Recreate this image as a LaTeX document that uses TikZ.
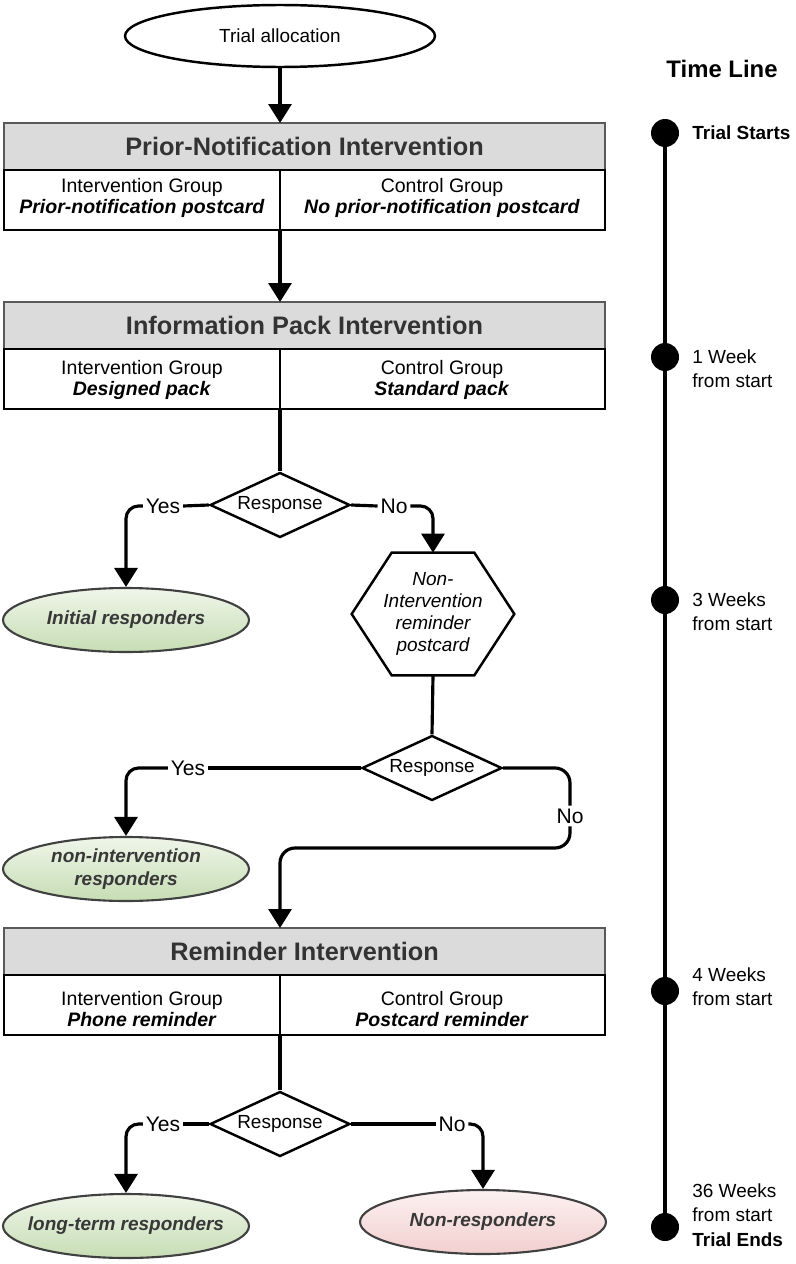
\documentclass[tikz,border=0pt]{standalone}
\usepackage{fontspec}
\setmainfont{Liberation Sans}
\usepackage{tikz}
\usetikzlibrary{positioning, shapes.geometric, arrows.meta}
\definecolor{greentop}{HTML}{F0F6EA}
\definecolor{greenbot}{HTML}{C6DDB4}
\definecolor{pinktop}{HTML}{FCF1F1}
\definecolor{pinkbot}{HTML}{F2CFCF}
\tikzset{
    flow/.style = {line width=1.8pt},
    arr/.style = {flow, -{Triangle[length=0.38cm, width=0.46cm]}},
    headbox/.style = {rectangle, draw=black!65, line width=1.2pt, fill=gray!28, outer sep=0pt,
        minimum width=12.02cm, minimum height=0.94cm, inner sep=0pt,
        font=\fontsize{14.4}{16}\selectfont\bfseries, text=black!80},
    bodybox/.style = {rectangle, draw, line width=1.4pt, fill=white, outer sep=0pt,
        minimum width=12.02cm, minimum height=1.2cm, inner sep=0pt},
    grp/.style = {align=center, inner sep=0pt, font=\fontsize{11.1}{12}\selectfont},
    decision/.style = {diamond, draw, line width=1.4pt, fill=white, aspect=2.2,
        minimum width=2.8cm, minimum height=1.3cm, inner sep=0pt, font=\fontsize{10.8}{12}\selectfont},
    yesno/.style = {inner sep=1.5pt, font=\fontsize{12}{13}\selectfont},
    endpoint/.style = {ellipse, draw=black!75, line width=1.2pt, minimum width=4.92cm,
        minimum height=1.28cm, inner sep=0pt, align=center, text=black!78,
        font=\fontsize{10.8}{13}\selectfont\bfseries\itshape},
    responders/.style = {endpoint, top color=greentop, bottom color=greenbot},
    nonresp/.style = {endpoint, top color=pinktop, bottom color=pinkbot},
    hexbox/.style = {minimum width=3.24cm, minimum height=2.44cm, inner sep=0pt,
        align=center, font=\fontsize{10.8}{12.5}\selectfont\itshape},
    tdot/.style = {circle, fill=black, minimum size=0.56cm, inner sep=0pt},
    tlabel/.style = {anchor=west, align=left, inner sep=0pt, font=\fontsize{10.8}{13.8}\selectfont},
}
\begin{document}
\begin{tikzpicture}[x=0.02cm, y=-0.02cm]
    \useasboundingbox (0,0) rectangle (795,1264);
    % start
    \node[ellipse, draw, line width=1.4pt, minimum width=6.2cm, minimum height=1.24cm,
        inner sep=0pt, font=\fontsize{10.8}{12}\selectfont] (alloc) at (280,36) {Trial allocation};
    % prior notification
    \node[headbox] (hd1) at (304.5,146.5) {Prior-Notification Intervention};
    \node[bodybox, below=0pt of hd1] (bd1) {};
    \node[grp] (ig1) at (142,198) {Intervention Group\\\textbf{\textit{Prior-notification postcard}}};
    \node[grp] (cg1) at (442,198) {Control Group\\\textbf{\textit{No prior-notification postcard}}};
    % information pack
    \node[headbox] (hd2) at (304.5,325.5) {Information Pack Intervention};
    \node[bodybox, below=0pt of hd2] (bd2) {};
    \node[grp] (ig2) at (142,380) {Intervention Group\\\textbf{\textit{Designed pack}}};
    \node[grp] (cg2) at (442,380) {Control Group\\\textbf{\textit{Standard pack}}};
    % first response
    \node[decision] (d1) at (280,505) {Response};
    \node[yesno] (yes1) at (163,506) {Yes};
    \node[yesno] (no1) at (394,506) {No};
    \node[responders] (ir) at (126,620) {Initial responders};
    \node[hexbox] (hex) at (433,614) {Non-\\Intervention\\reminder\\postcard};
    \draw[line width=1.4pt] (hex.west) -- ([xshift=0.8cm]hex.north west) -- ([xshift=-0.8cm]hex.north east)
        -- (hex.east) -- ([xshift=-0.8cm]hex.south east) -- ([xshift=0.8cm]hex.south west) -- cycle;
    % second response
    \node[decision] (d2) at (432,768) {Response};
    \node[yesno] (yes2) at (188,768) {Yes};
    \node[yesno] (no2) at (570,816) {No};
    \node[responders] (nir) at (126,869) {non-intervention\\responders};
    \coordinate (bend) at (280,848);
    % reminder
    \node[headbox] (hd3) at (304.5,951.5) {Reminder Intervention};
    \node[bodybox, below=0pt of hd3] (bd3) {};
    \node[grp] (ig3) at (142,1009) {Intervention Group\\\textbf{\textit{Phone reminder}}};
    \node[grp] (cg3) at (442,1009) {Control Group\\\textbf{\textit{Postcard reminder}}};
    % final response
    \node[decision] (d3) at (280,1124) {Response};
    \node[yesno] (yes3) at (163,1124) {Yes};
    \node[yesno] (no3) at (452,1124) {No};
    \node[responders] (ltr) at (126,1226) {\makebox[3cm][c]{long-term responders}};
    \node[nonresp] (nr) at (483,1222) {Non-responders};

    \draw[arr] (alloc.south) -- (alloc.south |- hd1.north);
    \draw[line width=1.4pt] (hd1.south -| alloc.south) -- (bd1.south -| alloc.south);
    \draw[arr] (bd1.south -| alloc.south) -- (hd2.north -| alloc.south);
    \draw[line width=1.4pt] (hd2.south -| d1.north) -- (bd2.south -| d1.north);
    \draw[flow] (bd2.south -| d1.north) -- (d1.north);
    \draw[flow] (d1.west) -- (yes1.east);
    \draw[arr, rounded corners=0.25cm] (yes1.west) -| (ir.north);
    \draw[flow] (d1.east) -- (no1.west);
    \draw[arr, rounded corners=0.25cm] (no1.east) -| (hex.north);
    \draw[flow] (hex.south) -- (d2.north);
    \draw[flow] (d2.west) -- (yes2.east);
    \draw[arr, rounded corners=0.25cm] (yes2.west) -| (nir.north);
    \draw[flow, rounded corners=0.3cm] (d2.east) -| (no2.north);
    \draw[arr, rounded corners=0.3cm] (no2.south) |- (bend) -- (hd3.north -| bend);
    \draw[line width=1.4pt] (hd3.south -| d3.north) -- (bd3.south -| d3.north);
    \draw[flow] (bd3.south -| d3.north) -- (d3.north);
    \draw[flow] (d3.west) -- (yes3.east);
    \draw[arr, rounded corners=0.25cm] (yes3.west) -| (ltr.north);
    \draw[flow] (d3.east) -- (no3.west);
    \draw[arr, rounded corners=0.25cm] (no3.east) -| (nr.north);

    % time line
    \node[font=\fontsize{13.6}{15}\selectfont\bfseries] (tline) at (722,69) {Time Line};
    \node[tdot] (t1) at (665,133) {};
    \node[tdot] (t2) at (665,357) {};
    \node[tdot] (t3) at (665,600) {};
    \node[tdot] (t4) at (665,991) {};
    \node[tdot] (t5) at (665,1227) {};
    \draw[line width=2pt] (t1.center) -- (t5.center);
    \node[tlabel] (w1) at (692,133) {\textbf{Trial Starts}};
    \node[tlabel] (w2) at (692,369) {1 Week\\from start};
    \node[tlabel] (w3) at (692,612) {3 Weeks\\from start};
    \node[tlabel] (w4) at (692,987) {4 Weeks\\from start};
    \node[tlabel] (w5) at (692,1215) {36 Weeks\\from start\\\textbf{Trial Ends}};
\end{tikzpicture}
\end{document}
